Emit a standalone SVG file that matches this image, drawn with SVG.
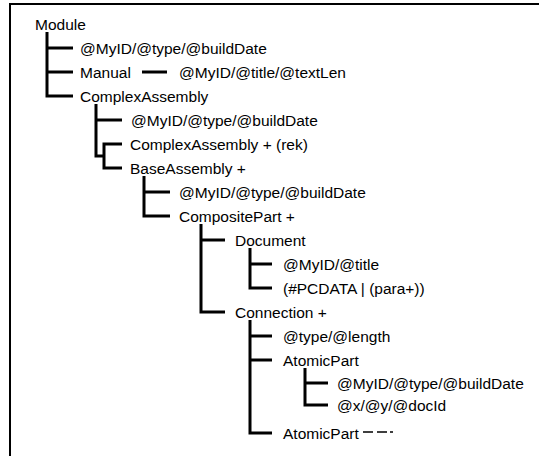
<svg xmlns="http://www.w3.org/2000/svg" width="539" height="456" viewBox="0 0 539 456">
<style>
.t{font-family:"Liberation Sans",Arial,sans-serif;font-size:15.5px;fill:#000}
.c{fill:none;stroke:#000;stroke-width:3;stroke-linejoin:miter}
.d{fill:none;stroke:#000;stroke-width:1.5}
.f{fill:none;stroke:#000;stroke-width:2}
</style>
<rect width="539" height="456" fill="#fff"/>
<path class="f" d="M10,456 V4 H539"/>
<g id="connectors">
<path class="c" d="M47,32 V96 H73 M47,48 H73 M47,72 H73"/>
<path class="c" d="M142,72 H167"/>
<path class="c" d="M96,104 V156 H105 M96,120 H122 M122,144 H104 V168 H122"/>
<path class="c" d="M144,176 V216 H170 M144,192 H170"/>
<path class="c" d="M201,224 V312 H225 M201,240 H225"/>
<path class="c" d="M250,248 V288 H272 M250,264 H272"/>
<path class="c" d="M250,320 V433 H272 M250,336 H272 M250,360 H272"/>
<path class="c" d="M305,368 V405 H328 M305,383 H328"/>
<path class="d" d="M363,432 H373 M377,432 H387 M390,432 H393"/>
</g>
<g id="n-module"><text class="t" x="35" y="29.5">Module</text></g>
<g id="n-module-attr"><text class="t" x="80" y="53.5">@MyID/@type/@buildDate</text></g>
<g id="n-manual"><text class="t" x="80" y="77.5">Manual</text></g>
<g id="n-manual-attr"><text class="t" x="179" y="77.5">@MyID/@title/@textLen</text></g>
<g id="n-complexassembly"><text class="t" x="80" y="101.5">ComplexAssembly</text></g>
<g id="n-ca-attr"><text class="t" x="131" y="125.5">@MyID/@type/@buildDate</text></g>
<g id="n-ca-rek"><text class="t" x="130" y="149.5">ComplexAssembly + (rek)</text></g>
<g id="n-baseassembly"><text class="t" x="130" y="173.5">BaseAssembly +</text></g>
<g id="n-ba-attr"><text class="t" x="179" y="197.5">@MyID/@type/@buildDate</text></g>
<g id="n-compositepart"><text class="t" x="179" y="221.5">CompositePart +</text></g>
<g id="n-document"><text class="t" x="235" y="245.5">Document</text></g>
<g id="n-doc-attr"><text class="t" x="283" y="269.5">@MyID/@title</text></g>
<g id="n-doc-content"><text class="t" x="283" y="293.5">(#PCDATA | (para+))</text></g>
<g id="n-connection"><text class="t" x="235" y="317.5">Connection +</text></g>
<g id="n-conn-attr"><text class="t" x="283" y="341.5">@type/@length</text></g>
<g id="n-atomicpart"><text class="t" x="283" y="365.5">AtomicPart</text></g>
<g id="n-ap-attr"><text class="t" x="337" y="388.5">@MyID/@type/@buildDate</text></g>
<g id="n-ap-attr2"><text class="t" x="337" y="410.5">@x/@y/@docId</text></g>
<g id="n-atomicpart2"><text class="t" x="283" y="438.5">AtomicPart</text></g>
</svg>
